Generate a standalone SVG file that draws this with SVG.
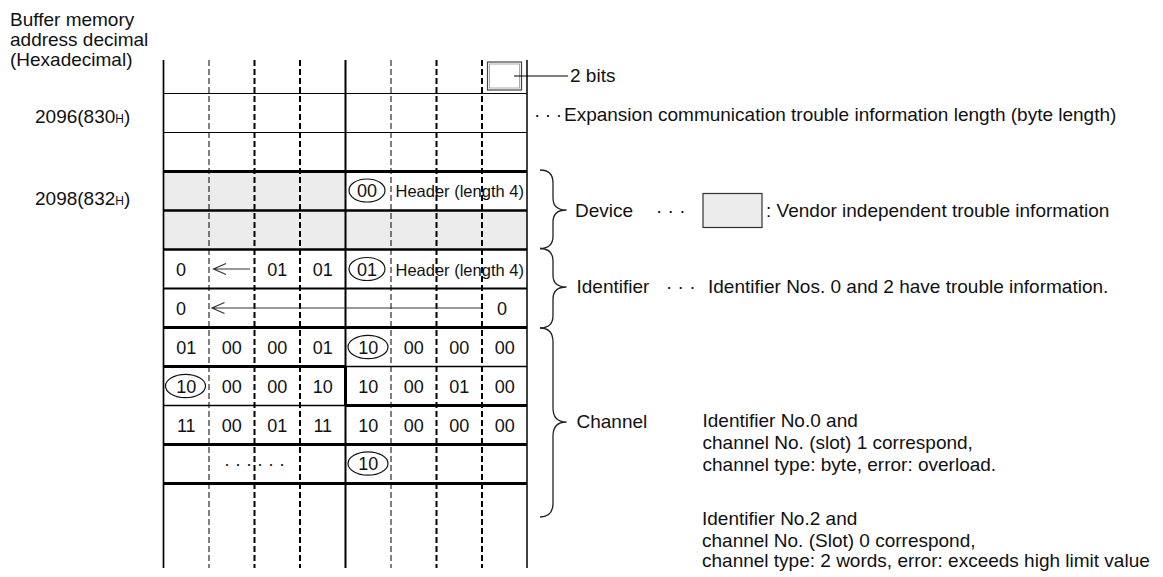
<svg xmlns="http://www.w3.org/2000/svg" width="1163" height="577" viewBox="0 0 1163 577">
<style>
  text { font-family: "Liberation Sans", Arial, sans-serif; fill: #111; }
  .lbl { font-size: 19px; }
  .cell { font-size: 18px; text-anchor: middle; }
  .hdr { font-size: 16.5px; }
  .solid { stroke: #000; fill: none; }
  .dthin { stroke: #000; stroke-width: 1; stroke-dasharray: 6 3; fill: none; }
  .dthick { stroke: #000; stroke-width: 2; stroke-dasharray: 6 3; fill: none; }
  .ell { fill: none; stroke: #111; stroke-width: 1.2; }
  .brace { fill: none; stroke: #222; stroke-width: 1.3; }
  .arrow { stroke: #333; stroke-width: 1.2; fill: none; }
</style>
<rect width="1163" height="577" fill="#fff"/>

<g id="address-labels">
  <text class="lbl" x="10" y="25.5">Buffer memory</text>
  <text class="lbl" x="10" y="45.5">address decimal</text>
  <text class="lbl" x="10" y="65.5">(Hexadecimal)</text>
  <text class="lbl" x="35" y="123">2096(830<tspan font-size="12">H</tspan>)</text>
  <text class="lbl" x="35" y="204.5">2098(832<tspan font-size="12">H</tspan>)</text>
</g>

<g id="grid">
  <!-- grey fills -->
  <rect x="163.5" y="171.5" width="182" height="39" fill="#ececec"/>
  <rect x="163.5" y="210.5" width="364" height="39" fill="#ececec"/>
  <!-- dashed verticals -->
  <line class="dthin" x1="209" y1="60" x2="209" y2="568"/>
  <line class="dthick" x1="254.5" y1="60" x2="254.5" y2="568"/>
  <line class="dthick" x1="300" y1="60" x2="300" y2="568"/>
  <line class="dthin" x1="391" y1="60" x2="391" y2="568"/>
  <line class="dthick" x1="436.5" y1="60" x2="436.5" y2="568"/>
  <line class="dthick" x1="482" y1="60" x2="482" y2="568"/>
  <!-- solid verticals -->
  <line class="solid" stroke-width="1.7" x1="163.5" y1="60" x2="163.5" y2="568"/>
  <line class="solid" stroke-width="2" x1="345.5" y1="60" x2="345.5" y2="568"/>
  <line class="solid" stroke-width="3" x1="345.5" y1="366.5" x2="345.5" y2="405.5"/>
  <line class="solid" stroke-width="1.5" x1="527" y1="60" x2="527" y2="568"/>
  <!-- horizontals -->
  <line class="solid" stroke-width="1.2" x1="163.5" y1="93.5" x2="527" y2="93.5"/>
  <line class="solid" stroke-width="1.2" x1="163.5" y1="132.5" x2="527" y2="132.5"/>
  <line class="solid" stroke-width="3" x1="163.5" y1="171.5" x2="527" y2="171.5"/>
  <line class="solid" stroke-width="2.5" x1="163.5" y1="210.5" x2="527" y2="210.5"/>
  <line class="solid" stroke-width="2.5" x1="163.5" y1="249.5" x2="527" y2="249.5"/>
  <line class="solid" stroke-width="2" x1="163.5" y1="288.5" x2="527" y2="288.5"/>
  <line class="solid" stroke-width="3" x1="163.5" y1="327.5" x2="527" y2="327.5"/>
  <line class="solid" stroke-width="3" x1="163.5" y1="366.5" x2="345.5" y2="366.5"/>
  <line class="solid" stroke-width="1.5" x1="345.5" y1="366.5" x2="527" y2="366.5"/>
  <line class="solid" stroke-width="1.5" x1="163.5" y1="405.5" x2="345.5" y2="405.5"/>
  <line class="solid" stroke-width="3" x1="345.5" y1="405.5" x2="527" y2="405.5"/>
  <line class="solid" stroke-width="3" x1="163.5" y1="444.5" x2="527" y2="444.5"/>
  <line class="solid" stroke-width="3" x1="163.5" y1="483.5" x2="527" y2="483.5"/>
</g>

<g id="bit-box">
  <rect x="487.5" y="62" width="34" height="28" fill="#fff" stroke="#444" stroke-width="1.2"/>
  <rect x="489.5" y="64" width="30" height="24" fill="none" stroke="#aaa" stroke-width="1"/>
  <text class="lbl" x="570" y="82">2 bits</text>
</g>

<g id="cells">
  <!-- row 0: device header -->
  <ellipse class="ell" cx="367" cy="190.5" rx="18" ry="11.5"/>
  <text class="cell" x="367" y="197">00</text>
  <text class="hdr" x="395.5" y="197">Header (length 4)</text>
  <!-- row 2: identifier header -->
  <text class="cell" x="181" y="275.5">0</text>
  <text class="cell" x="277.25" y="275.5">01</text>
  <text class="cell" x="322.75" y="275.5">01</text>
  <ellipse class="ell" cx="367" cy="269" rx="18" ry="11.5"/>
  <text class="cell" x="367" y="275.5">01</text>
  <text class="hdr" x="395.5" y="275.5">Header (length 4)</text>
  <!-- row 3 -->
  <text class="cell" x="181" y="314.5">0</text>
  <text class="cell" x="502" y="314.5">0</text>
  <!-- row 4 -->
  <text class="cell" x="186.25" y="353.5">01</text>
  <text class="cell" x="231.75" y="353.5">00</text>
  <text class="cell" x="277.25" y="353.5">00</text>
  <text class="cell" x="322.75" y="353.5">01</text>
  <ellipse class="ell" cx="368" cy="347" rx="20" ry="11.7"/>
  <text class="cell" x="368.25" y="353.5">10</text>
  <text class="cell" x="413.75" y="353.5">00</text>
  <text class="cell" x="459.25" y="353.5">00</text>
  <text class="cell" x="504.75" y="353.5">00</text>
  <!-- row 5 -->
  <ellipse class="ell" cx="185.5" cy="386" rx="20" ry="11.7"/>
  <text class="cell" x="186.25" y="392.5">10</text>
  <text class="cell" x="231.75" y="392.5">00</text>
  <text class="cell" x="277.25" y="392.5">00</text>
  <text class="cell" x="322.75" y="392.5">10</text>
  <text class="cell" x="368.25" y="392.5">10</text>
  <text class="cell" x="413.75" y="392.5">00</text>
  <text class="cell" x="459.25" y="392.5">01</text>
  <text class="cell" x="504.75" y="392.5">00</text>
  <!-- row 6 -->
  <text class="cell" x="186.25" y="431.5">11</text>
  <text class="cell" x="231.75" y="431.5">00</text>
  <text class="cell" x="277.25" y="431.5">01</text>
  <text class="cell" x="322.75" y="431.5">11</text>
  <text class="cell" x="368.25" y="431.5">10</text>
  <text class="cell" x="413.75" y="431.5">00</text>
  <text class="cell" x="459.25" y="431.5">00</text>
  <text class="cell" x="504.75" y="431.5">00</text>
  <!-- row 7 -->
  <text class="cell" x="254.5" y="470">· · · · · ·</text>
  <ellipse class="ell" cx="368" cy="463.5" rx="20" ry="11.7"/>
  <text class="cell" x="368.25" y="470">10</text>
</g>

<g id="connectors">
  <path class="arrow" d="M213.5 269 H250 M226 263.5 L213.5 269 L226 274.5"/>
  <path class="arrow" d="M212 308 H481.5 M224.5 302.5 L212 308 L224.5 313.5"/>
  <line stroke="#000" stroke-width="1.2" x1="514" y1="76" x2="568" y2="76"/>
  <path class="brace" d="M540 170 Q553 170 553 183 L553 198 Q553 210 566.5 210 Q553 210 553 222 L553 236 Q553 248.5 540 248.5"/>
  <path class="brace" d="M540 248.5 Q553 248.5 553 261 L553 275 Q553 287 566.5 287 Q553 287 553 299 L553 315.5 Q553 328 540 328"/>
  <path class="brace" d="M540 328 Q553 328 553 342 L553 408 Q553 422 566.5 422 Q553 422 553 436 L553 503 Q553 517 540 517"/>
</g>

<g id="notes">
  <text class="lbl" x="534" y="120.5" letter-spacing="4.5">···</text>
  <text class="lbl" x="564" y="120.5">Expansion communication trouble information length (byte length)</text>
  <text class="lbl" x="575" y="216.5">Device</text>
  <text class="lbl" x="656" y="216.5">· · ·</text>
  <rect x="703" y="193.5" width="59" height="34" fill="#ececec" stroke="#333" stroke-width="1.2"/>
  <text class="lbl" x="766" y="216.5">: Vendor independent trouble information</text>
  <text class="lbl" x="576.5" y="293">Identifier</text>
  <text class="lbl" x="666" y="293">· · ·</text>
  <text class="lbl" x="708" y="293">Identifier Nos. 0 and 2 have trouble information.</text>
  <text class="lbl" x="576.5" y="428">Channel</text>
  <text class="lbl" x="702.5" y="426.5">Identifier No.0 and</text>
  <text class="lbl" x="702.5" y="449">channel No. (slot) 1 correspond,</text>
  <text class="lbl" x="702.5" y="470.5">channel type: byte, error: overload.</text>
  <text class="lbl" x="702" y="525">Identifier No.2 and</text>
  <text class="lbl" x="702" y="547">channel No. (Slot) 0 correspond,</text>
  <text class="lbl" x="702" y="567">channel type: 2 words, error: exceeds high limit value</text>
</g>
</svg>
